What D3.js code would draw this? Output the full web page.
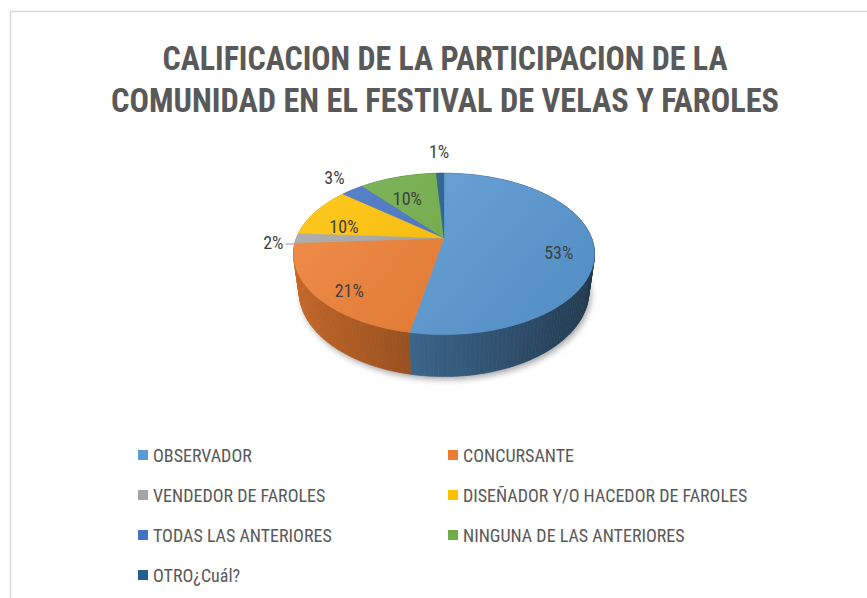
<!DOCTYPE html>
<html>
<head>
<meta charset="utf-8">
<script src="https://cdn.jsdelivr.net/npm/d3@7"></script>
<style>
  html, body { margin: 0; padding: 0; background: #fff; }
  svg { display: block; }
</style>
</head>
<body>
<svg id="chart" width="867" height="598"></svg>
<script>
// ---------- data ----------
const titleLines = ["CALIFICACION DE LA PARTICIPACION DE LA", "COMUNIDAD EN EL FESTIVAL DE VELAS Y FAROLES"];
const categories = ["OBSERVADOR", "CONCURSANTE", "VENDEDOR DE FAROLES", "DISEÑADOR Y/O HACEDOR DE FAROLES", "TODAS LAS ANTERIORES", "NINGUNA DE LAS ANTERIORES", "OTRO¿Cuál?"];
const values = [53, 21, 2, 10, 3, 10, 1];
const labels = ["53%", "21%", "2%", "10%", "3%", "10%", "1%"];
const colors = ["#5b9bd5", "#ed7d31", "#a5a5a5", "#ffc000", "#4472c4", "#70ad47", "#255e91"];

// ---------- setup ----------
const svg = d3.select("#chart");
const W = 867, H = 598;
const FONT = "'Liberation Sans Narrow', 'Arial Narrow', 'Roboto Condensed', 'Liberation Sans', sans-serif";
const TXT = "#595959";

svg.append("rect").attr("width", W).attr("height", H).attr("fill", "#fff");
// chart frame
svg.append("path").attr("d", "M10.5,598 V11.5 H867").attr("fill", "none").attr("stroke", "#d9d9d9").attr("stroke-width", 1.5);

// title
const titleY = d3.scaleLinear().domain([0, 1]).range([70, 112]);
const titleW = [565, 668];
svg.selectAll("text.title").data(titleLines).join("text")
  .attr("class", "title")
  .attr("x", 445).attr("y", (d, i) => titleY(i))
  .attr("text-anchor", "middle")
  .attr("font-family", FONT).attr("font-weight", "bold").attr("font-size", 34)
  .attr("fill", TXT)
  .attr("textLength", (d, i) => titleW[i]).attr("lengthAdjust", "spacingAndGlyphs")
  .text(d => d);

// ---------- 3D pie projection ----------
const cx = 444, cy0 = 238;
const tilt = 31.7 * Math.PI / 180, cT = Math.cos(tilt), sT = Math.sin(tilt);
const f = 636, Dist = 4.31, depth = 0.31;
function proj(theta, r, Y) {
  const X = r * Math.sin(theta), Z = r * Math.cos(theta);
  const yc = Y * cT + Z * sT;
  const zc = Dist + Z * cT - Y * sT;
  return [cx + f * X / zc, cy0 - f * yc / zc, zc];
}

const pie = d3.pie().sort(null).value(d => d).startAngle(0).endAngle(2 * Math.PI);
const arcs = pie(values);

const defs = svg.append("defs");
const shadow = defs.append("filter").attr("id", "shadow").attr("x", "-20%").attr("y", "-20%").attr("width", "140%").attr("height", "140%");
shadow.append("feGaussianBlur").attr("stdDeviation", 3);

function shade(col, k) {
  const c = d3.rgb(col);
  return d3.rgb(c.r * k, c.g * k, c.b * k).formatHex();
}
function lighten(col, k) {
  const c = d3.rgb(col);
  return d3.rgb(c.r + (255 - c.r) * k, c.g + (255 - c.g) * k, c.b + (255 - c.b) * k).formatHex();
}

// gradients for top faces
colors.forEach((col, i) => {
  const g = defs.append("linearGradient").attr("id", "top" + i)
    .attr("gradientUnits", "userSpaceOnUse")
    .attr("x1", 330).attr("y1", 170).attr("x2", 520).attr("y2", 340);
  g.append("stop").attr("offset", 0).attr("stop-color", lighten(col, 0.12));
  g.append("stop").attr("offset", 1).attr("stop-color", shade(col, 0.93));
});

const line = d3.line();
const pieG = svg.append("g");

// shadow of the bottom face
const bottomPts = d3.range(0, 361, 2).map(a => proj(a * Math.PI / 180, 1, -depth).slice(0, 2));
pieG.append("path")
  .attr("d", line(bottomPts) + "Z")
  .attr("transform", "translate(2,3)")
  .attr("fill", "#000").attr("opacity", 0.35)
  .attr("filter", "url(#shadow)");

// walls
const step = 1.5 * Math.PI / 180;
const quads = [];
arcs.forEach((a, i) => {
  const n = Math.max(1, Math.ceil((a.endAngle - a.startAngle) / step));
  for (let k = 0; k < n; k++) {
    const t0 = a.startAngle + (a.endAngle - a.startAngle) * k / n;
    const t1 = a.startAngle + (a.endAngle - a.startAngle) * (k + 1) / n;
    const tm = (t0 + t1) / 2;
    const p0 = proj(t0, 1, 0), p1 = proj(t1, 1, 0), p2 = proj(t1, 1, -depth), p3 = proj(t0, 1, -depth);
    const k2 = 0.6 - 0.25 * Math.sin(tm);
    quads.push({ pts: [p0, p1, p2, p3].map(p => p.slice(0, 2)), z: proj(tm, 1, 0)[2], fill: shade(colors[i], k2) });
  }
});
quads.sort((a, b) => b.z - a.z);
pieG.selectAll("path.wall").data(quads).join("path")
  .attr("class", "wall")
  .attr("d", d => line(d.pts) + "Z")
  .attr("fill", d => d.fill).attr("stroke", d => d.fill).attr("stroke-width", 0.6);

// top faces
const apex = proj(0, 0, 0).slice(0, 2);
pieG.selectAll("path.top").data(arcs).join("path")
  .attr("class", "top")
  .attr("d", a => {
    const n = Math.max(2, Math.ceil((a.endAngle - a.startAngle) / (0.5 * Math.PI / 180)));
    const pts = [apex];
    for (let k = 0; k <= n; k++) {
      const t = a.startAngle + (a.endAngle - a.startAngle) * k / n;
      pts.push(proj(t, 1, 0).slice(0, 2));
    }
    return line(pts) + "Z";
  })
  .attr("fill", (a, i) => `url(#top${i})`)
  .attr("stroke", (a, i) => `url(#top${i})`).attr("stroke-width", 0.4);

// data labels
const ellC = [cx, 254];
const lblG = svg.append("g").attr("font-family", FONT).attr("font-size", 18).attr("fill", "#404040");
arcs.forEach((a, i) => {
  const mid = (a.startAngle + a.endAngle) / 2;
  const share = a.value / d3.sum(values);
  if (share >= 0.05) {
    const p = proj(mid, 0.77, 0);
    lblG.append("text").attr("x", p[0]).attr("y", p[1] + 9)
      .attr("text-anchor", "middle").attr("dominant-baseline", "central").text(labels[i]);
  } else {
    const e = proj(mid, 1, 0);
    const dx = e[0] - ellC[0], dy = e[1] - ellC[1];
    const len = Math.hypot(dx, dy);
    const ux = dx / len, uy = dy / len;
    if (Math.abs(ux) > 0.95) {
      // side label with leader line
      const sx = e[0] - 2, sy = e[1] + 6;
      svg.append("line").attr("x1", sx - 9).attr("y1", sy).attr("x2", sx).attr("y2", sy)
        .attr("stroke", "#a6a6a6").attr("stroke-width", 1.2);
      lblG.append("text").attr("x", sx - 11).attr("y", sy - 2)
        .attr("text-anchor", "end").attr("dominant-baseline", "central").text(labels[i]);
    } else {
      lblG.append("text").attr("x", e[0] + 22 * ux).attr("y", e[1] + 22 * uy)
        .attr("text-anchor", "middle").attr("dominant-baseline", "central").text(labels[i]);
    }
  }
});

// legend
const legX = d3.scaleOrdinal().domain([0, 1]).range([138, 448]);
const legY = d3.scaleLinear().domain([0, 1]).range([455, 495]);
const leg = svg.append("g").selectAll("g").data(categories).join("g")
  .attr("transform", (d, i) => `translate(${legX(i % 2)},${legY(Math.floor(i / 2))})`);
leg.append("rect").attr("x", 0).attr("y", -5).attr("width", 10).attr("height", 10)
  .attr("fill", (d, i) => colors[i]);
leg.append("text").attr("x", 15).attr("y", 0)
  .attr("dominant-baseline", "central")
  .attr("font-family", FONT).attr("font-size", 18).attr("fill", TXT)
  .text(d => d);
</script>
</body>
</html>
